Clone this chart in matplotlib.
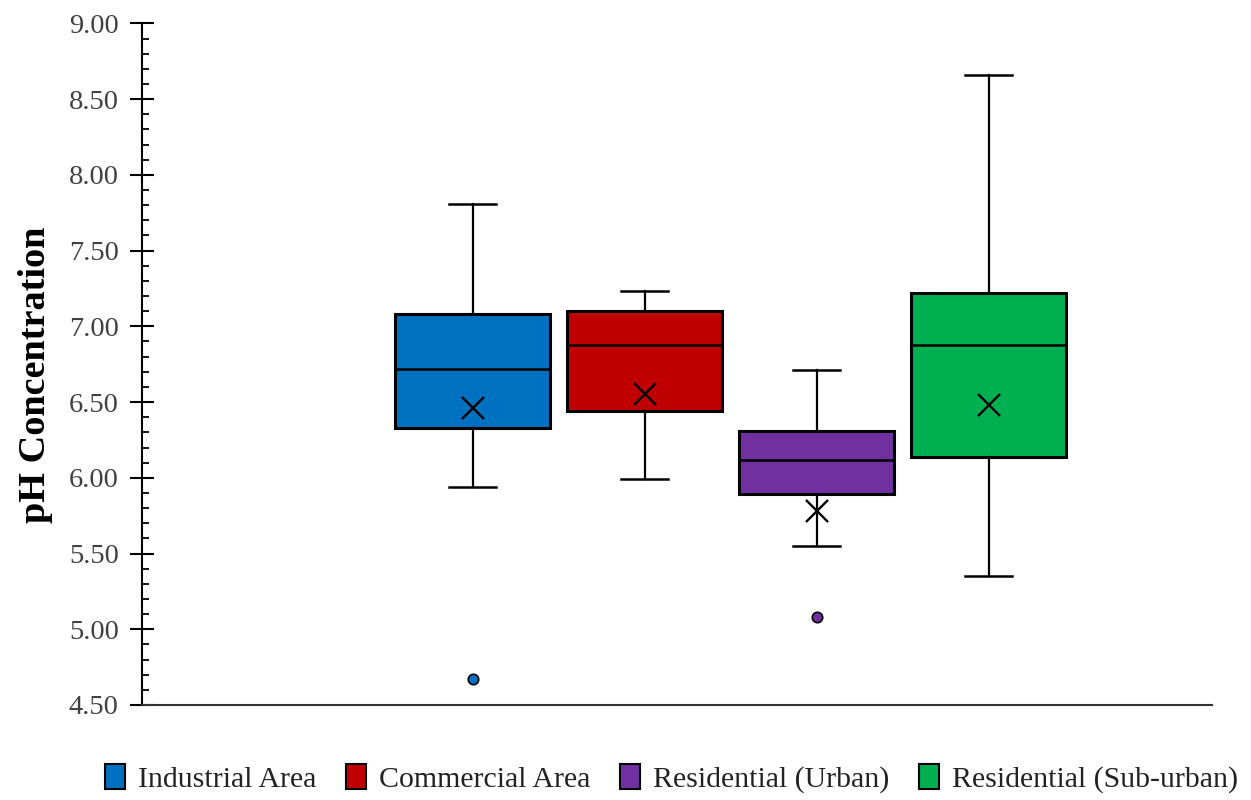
import matplotlib.pyplot as plt
from matplotlib.patches import Patch
from matplotlib.ticker import MultipleLocator, FormatStrFormatter

plt.rcParams["font.family"] = ["Liberation Serif", "DejaVu Serif"]

# five-number summaries, means and outliers per sampling zone
zones = ["Industrial Area", "Commercial Area", "Residential (Urban)", "Residential (Sub-urban)"]
colors = ["#0070C0", "#C00000", "#7030A0", "#00B050"]
whisker_low = [5.94, 5.99, 5.55, 5.35]
q1 = [6.33, 6.44, 5.89, 6.14]
median = [6.72, 6.88, 6.12, 6.88]
q3 = [7.08, 7.10, 6.31, 7.22]
whisker_high = [7.81, 7.23, 6.71, 8.66]
mean = [6.46, 6.55, 5.78, 6.48]
outliers = [[4.67], [], [5.08], []]

stats = []
for i, name in enumerate(zones):
    stats.append({
        "label": name,
        "whislo": whisker_low[i],
        "q1": q1[i],
        "med": median[i],
        "q3": q3[i],
        "whishi": whisker_high[i],
        "mean": mean[i],
        "fliers": outliers[i],
    })

fig = plt.figure(figsize=(12.51, 8.0), dpi=100)
ax = fig.add_axes([0.1133, 0.11875, 0.8555, 0.852])

positions = [0, 1, 2, 3]
bp = ax.bxp(
    stats,
    positions=positions,
    widths=0.9,
    patch_artist=True,
    showmeans=True,
    meanline=False,
    showfliers=True,
    capwidths=0.27,
    boxprops=dict(edgecolor="black", linewidth=2.2),
    whiskerprops=dict(color="black", linewidth=1.6),
    capprops=dict(color="black", linewidth=1.8),
    medianprops=dict(color="black", linewidth=1.8),
    meanprops=dict(marker="x", markeredgecolor="black", markersize=16, markeredgewidth=1.7),
)
for box, c in zip(bp["boxes"], colors):
    box.set_facecolor(c)
for flier, c in zip(bp["fliers"], colors):
    flier.set(marker="o", markerfacecolor=c, markeredgecolor="black",
              markersize=7.5, markeredgewidth=1.2)

ax.set_xlim(-1.923, 4.299)
ax.set_ylim(4.5, 9.0)
ax.set_xticks([])
ax.yaxis.set_major_locator(MultipleLocator(0.5))
ax.yaxis.set_minor_locator(MultipleLocator(0.1))
ax.yaxis.set_major_formatter(FormatStrFormatter("%.2f"))
ax.tick_params(axis="y", which="major", direction="inout", length=17, width=1.5,
               labelsize=20.5, colors="black", pad=8)
ax.tick_params(axis="y", which="minor", direction="in", length=5, width=1.3)
for lbl in ax.get_yticklabels():
    lbl.set_color("#404040")

for side in ["top", "right"]:
    ax.spines[side].set_visible(False)
ax.spines["left"].set_linewidth(1.5)
ax.spines["bottom"].set_linewidth(1.5)
ax.spines["left"].set_color("black")
ax.spines["bottom"].set_color("#333333")

ax.set_ylabel("pH Concentration", fontsize=27.5, fontweight="bold")
ax.yaxis.set_label_coords(-0.083, 0.484)

handles = [Patch(facecolor=c, edgecolor="black", linewidth=1.5, label=z)
           for z, c in zip(zones, colors)]
fig.legend(handles=handles, loc="center", bbox_to_anchor=(0.537, 0.027), ncol=4,
           frameon=False, fontsize=21.5, handlelength=0.65, handleheight=0.95,
           handletextpad=0.45, columnspacing=1.0, labelcolor="#222222")

fig.savefig("out.png", dpi=100)
